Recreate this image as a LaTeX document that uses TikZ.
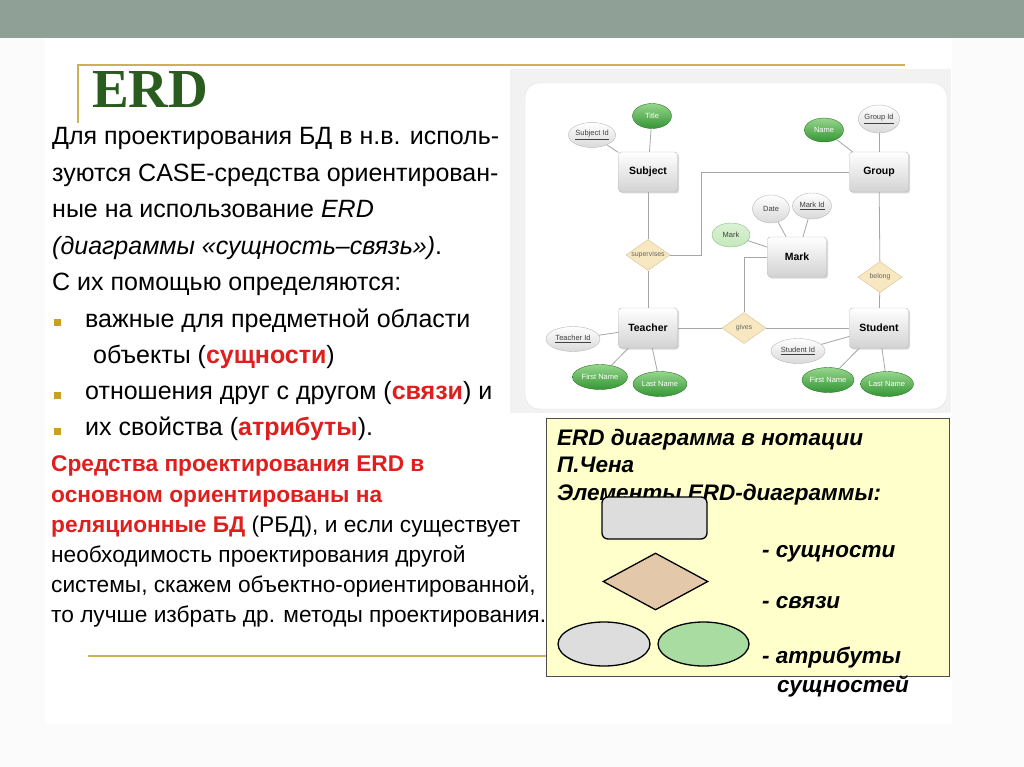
\documentclass[tikz,border=0pt]{standalone}
\usepackage{fontspec}
\setmainfont{Liberation Sans}
\newfontfamily\headfont{Liberation Serif}
\usetikzlibrary{shapes.geometric,shadows,positioning}

\definecolor{barcol}{RGB}{143,160,151}
\definecolor{goldcol}{RGB}{204,178,84}
\definecolor{headcol}{RGB}{42,92,32}
\definecolor{redcol}{RGB}{224,30,30}
\definecolor{bulletcol}{RGB}{200,160,40}
\definecolor{notecol}{RGB}{255,255,204}
\definecolor{relfill}{RGB}{248,232,194}
\definecolor{reldraw}{RGB}{214,192,140}
\definecolor{greenhi}{RGB}{150,214,140}
\definecolor{greenlo}{RGB}{52,150,52}
\definecolor{greenpale}{RGB}{196,232,186}
\definecolor{tancol}{RGB}{228,200,170}
\definecolor{legreen}{RGB}{168,220,160}
\definecolor{legray}{RGB}{221,221,221}

\begin{document}
\begin{tikzpicture}[x=1pt,y=-1pt,
    entity/.style={rectangle, rounded corners=3pt, draw=gray!55, top color=white, bottom color=gray!35,
        minimum width=59pt, minimum height=40pt, font=\fontsize{10.5}{10.5}\selectfont\bfseries,
        drop shadow={opacity=.3, shadow xshift=1.5pt, shadow yshift=-1.5pt}},
    attr/.style={ellipse, draw=gray!55, top color=white, bottom color=gray!30, inner sep=0pt,
        minimum height=25pt, text=black!75, font=\fontsize{7.5}{7.5}\selectfont},
    gattr/.style={attr, draw=greenlo!80!black, top color=greenhi, bottom color=greenlo, text=white},
    pattr/.style={attr, draw=greenlo!60, top color=greenpale!60, bottom color=greenpale, text=black!75},
    rel/.style={diamond, aspect=1.4, draw=reldraw, fill=relfill, minimum width=44pt, minimum height=31pt,
        inner sep=0pt, text=black!60, font=\fontsize{7}{7}\selectfont},
    link/.style={draw=gray!70, line width=0.8pt},
    bigtxt/.style={anchor=base west, inner sep=0pt, font=\fontsize{25}{25}\selectfont},
    smalltxt/.style={anchor=base west, inner sep=0pt, font=\fontsize{22.7}{22.7}\selectfont},
    redtxt/.style={smalltxt, text=redcol, font=\fontsize{22.7}{22.7}\selectfont\bfseries},
    notetxt/.style={anchor=base west, inner sep=0pt, font=\fontsize{22.5}{22.5}\selectfont\bfseries\itshape},
    legend/.style={draw=black, line width=1.3pt}]
    \useasboundingbox (0,0) rectangle (1024,767);

    % slide
    \fill[gray!3] (0,0) rectangle (1024,767);
    \fill[white] (45,38) rectangle (952,724);
    \fill[barcol] (0,0) rectangle (1024,38);
    \draw[goldcol, line width=1.2pt] (78,123) -- (78,65) -- (905,65);
    \draw[goldcol, line width=2pt] (88,656) -- (546,656);

    \node[anchor=base west, inner sep=0pt, text=headcol, font=\fontsize{55}{55}\selectfont\headfont\bfseries] (erdhead) at (92,108) {ERD};

    % left text
    \node[bigtxt] (l1) at (52,145) {Для проектирования БД в н.в. исполь-};
    \node[bigtxt] (l2) at (52,182) {зуются CASE-средства ориентирован-};
    \node[bigtxt] (l3) at (52,218) {ные на использование \textit{ERD}};
    \node[bigtxt] (l4) at (52,254) {\textit{(диаграммы «сущность–связь»)}.};
    \node[bigtxt] (l5) at (52,290) {С их помощью определяются:};
    \fill[bulletcol] (54,319) rectangle (61,326);
    \node[bigtxt] (l6) at (85,327) {важные для предметной области};
    \node[bigtxt] (l7) at (93,363) {объекты ({\color{redcol}\bfseries сущности})};
    \fill[bulletcol] (54,392) rectangle (61,399);
    \node[bigtxt] (l8) at (85,399) {отношения друг с другом ({\color{redcol}\bfseries связи}) и};
    \fill[bulletcol] (54,428) rectangle (61,435);
    \node[bigtxt] (l9) at (85,435) {их свойства ({\color{redcol}\bfseries атрибуты}).};

    \node[redtxt] (r1) at (51,471) {Средства проектирования ERD в};
    \node[redtxt] (r2) at (51,502) {основном ориентированы на};
    \node[smalltxt] (r3) at (51,532) {{\color{redcol}\bfseries реляционные БД} (РБД), и если существует};
    \node[smalltxt] (r4) at (51,562) {необходимость проектирования другой};
    \node[smalltxt] (r5) at (51,592) {системы, скажем объектно-ориентированной,};
    \node[smalltxt] (r6) at (51,622) {то лучше избрать др. методы проектирования.};

    % ER picture
    \fill[gray!10] (510,69) rectangle (951,413);
    \draw[gray!25, fill=white, rounded corners=14pt] (525,83) rectangle (947,409);

    \node[entity] (subject) at (648,172) {Subject};
    \node[entity] (group) at (879,172) {Group};
    \node[entity] (mark) at (797,257) {Mark};
    \node[entity] (teacher) at (648,328) {Teacher};
    \node[entity] (student) at (879,328) {Student};

    \node[rel] (supervises) at (648,255) {supervises};
    \node[rel] (belong) at (880,277) {belong};
    \node[rel] (gives) at (744,328) {gives};

    \node[gattr, minimum width=39pt] (titleattr) at (652,116) {Title};
    \node[attr, minimum width=46pt] (subjectid) at (592,135) {\underline{Subject Id}};
    \node[gattr, minimum width=39pt, minimum height=24pt] (groupname) at (824,130) {Name};
    \node[attr, minimum width=38pt, minimum height=28pt] (groupid) at (879,119) {\underline{Group Id}};
    \node[attr, minimum width=37pt, minimum height=28pt] (date) at (771,209) {Date};
    \node[attr, minimum width=39pt, minimum height=26pt] (markid) at (812,206) {\underline{Mark Id}};
    \node[pattr, minimum width=38pt, minimum height=24pt] (markattr) at (731,235) {Mark};
    \node[attr, minimum width=54pt] (teacherid) at (573,339) {\underline{Teacher Id}};
    \node[gattr, minimum width=55pt] (tfirst) at (600,377) {First Name};
    \node[gattr, minimum width=54pt] (tlast) at (660,384) {Last Name};
    \node[attr, minimum width=54pt] (studentid) at (798,351) {\underline{Student Id}};
    \node[gattr, minimum width=52pt] (sfirst) at (828,380) {First Name};
    \node[gattr, minimum width=53pt] (slast) at (887,384) {Last Name};

    \coordinate (bend) at (701,172);

    \draw[link] (titleattr) -- (subject);
    \draw[link] (subjectid) -- (subject);
    \draw[link] (subject) -- (supervises);
    \draw[link] (supervises) -- (teacher);
    \draw[link] (supervises.east) -| (bend) -- (group.west);
    \draw[link] (groupname) -- (group);
    \draw[link] (groupid) -- (group);
    \draw[link] (group) -- (belong);
    \draw[link] (belong) -- (student);
    \draw[link] (mark.west) -| (gives.north);
    \draw[link] (teacher) -- (gives);
    \draw[link] (gives) -- (student);
    \draw[link] (date) -- (mark);
    \draw[link] (markid) -- (mark);
    \draw[link] (markattr) -- (mark);
    \draw[link] (teacherid) -- (teacher);
    \draw[link] (tfirst) -- (teacher);
    \draw[link] (tlast) -- (teacher);
    \draw[link] (studentid) -- (student);
    \draw[link] (sfirst) -- (student);
    \draw[link] (slast) -- (student);

    % notation box
    \draw[fill=notecol, draw=gray!60!black, line width=0.8pt] (546,418) rectangle (949,676);
    \node[notetxt] (n1) at (557,445) {ERD диаграмма в нотации};
    \node[notetxt] (n2) at (557,472) {П.Чена};
    \node[notetxt] (n3) at (557,500) {Элементы ERD-диаграммы:};

    \node[legend, rounded corners=6pt, fill=legray, minimum width=105pt, minimum height=42pt] (lentity) at (654.5,518) {};
    \node[legend, diamond, fill=tancol, minimum width=105pt, minimum height=57pt, inner sep=0pt] (lrel) at (655.5,581.5) {};
    \node[legend, ellipse, fill=legray, minimum width=92pt, minimum height=44pt] (lattr) at (604,644) {};
    \node[legend, ellipse, fill=legreen, minimum width=91pt, minimum height=44pt] (lgattr) at (703.5,644) {};

    \node[notetxt] (d1) at (762,557) {- сущности};
    \node[notetxt] (d2) at (762,608) {- связи};
    \node[notetxt] (d3) at (762,663) {- атрибуты};
    \node[notetxt] (d4) at (777,692) {сущностей};
\end{tikzpicture}
\end{document}
